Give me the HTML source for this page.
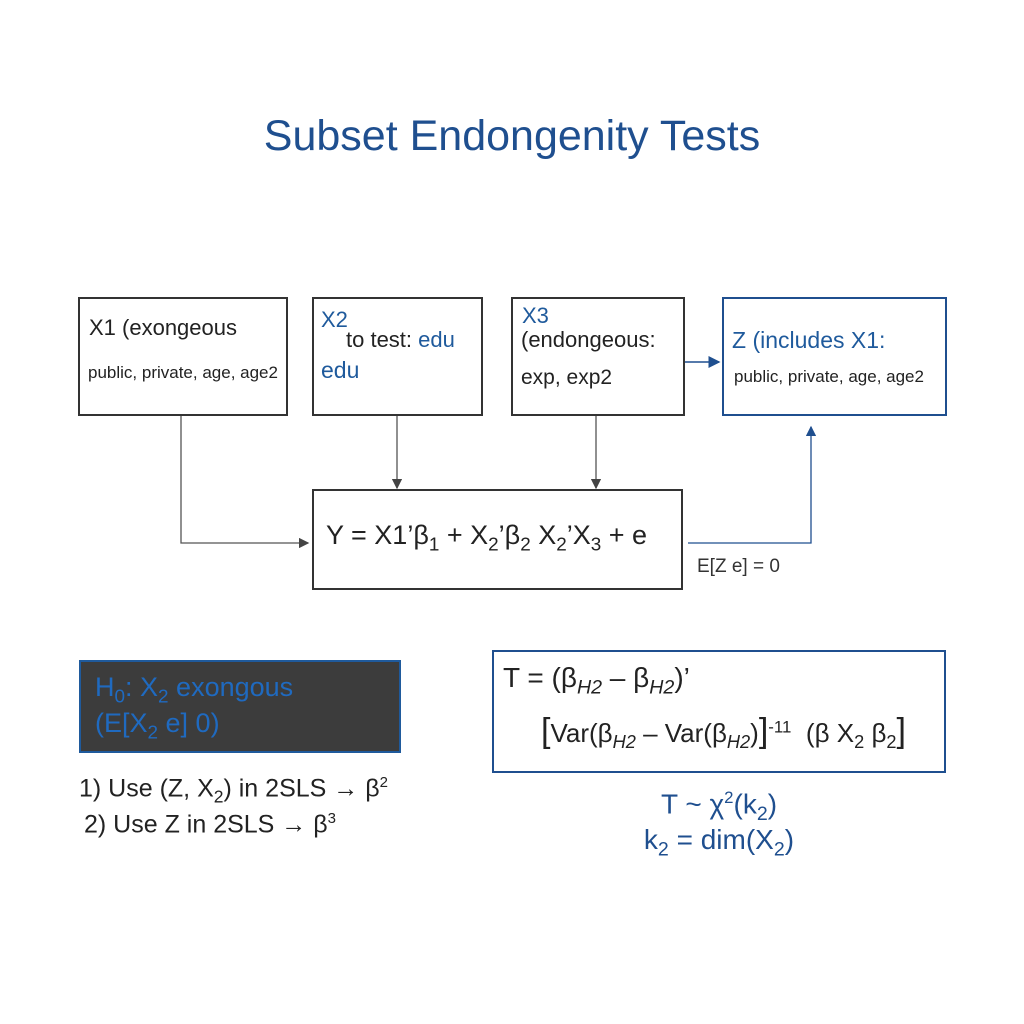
<!DOCTYPE html>
<html><head><meta charset="utf-8"><style>
body{margin:0;width:1024px;height:1024px;background:#fff;position:relative;font-family:"Liberation Sans",sans-serif;overflow:hidden}
.a{position:absolute;white-space:nowrap}
.b{position:absolute;box-sizing:border-box;border:2px solid #333;background:#fff}
.bl{color:#1f5a9c}
sub{font-size:0.7em}
</style></head><body>
<div class="a" style="left:0;width:1024px;text-align:center;top:112px;font-size:43px;color:#1f4f8f">Subset Endongenity Tests</div>

<div class="b" style="left:78px;top:297px;width:210px;height:119px"></div>
<div class="a" style="left:89px;top:315px;font-size:22px;color:#222">X1 (exongeous</div>
<div class="a" style="left:88px;top:363px;font-size:17px;color:#222">public, private, age, age2</div>

<div class="b" style="left:312px;top:297px;width:171px;height:119px"></div>
<div class="a bl" style="left:321px;top:307px;font-size:22px">X2</div>
<div class="a" style="left:346px;top:327px;font-size:22px;color:#222">to test: <span class="bl">edu</span></div>
<div class="a bl" style="left:321px;top:357px;font-size:23px">edu</div>

<div class="b" style="left:511px;top:297px;width:174px;height:119px"></div>
<div class="a bl" style="left:522px;top:303px;font-size:22px">X3</div>
<div class="a" style="left:521px;top:327px;font-size:22px;color:#222">(endongeous:</div>
<div class="a" style="left:521px;top:366px;font-size:21px;color:#222">exp, exp2</div>

<div class="b" style="left:722px;top:297px;width:225px;height:119px;border-color:#1f4f8f"></div>
<div class="a bl" style="left:732px;top:327px;font-size:23px">Z (includes X1:</div>
<div class="a" style="left:734px;top:367px;font-size:17px;color:#222">public, private, age, age2</div>

<div class="b" style="left:312px;top:489px;width:371px;height:101px"></div>
<div class="a" style="left:326px;top:520px;font-size:27px;color:#222">Y = X1’β<sub>1</sub> + X<sub>2</sub>’β<sub>2</sub> X<sub>2</sub>’X<sub>3</sub> + e</div>
<div class="a" style="left:697px;top:556px;font-size:19px;color:#333">E[Z e] = 0</div>

<svg class="a" style="left:0;top:0" width="1024" height="1024">
<defs><marker id="m" markerWidth="8" markerHeight="8" refX="7" refY="4" orient="auto"><path d="M0,0 L8,4 L0,8z" fill="#444"/></marker>
<marker id="mb" markerWidth="8" markerHeight="8" refX="7" refY="4" orient="auto"><path d="M0,0 L8,4 L0,8z" fill="#1f4f8f"/></marker></defs>
<path d="M181,416 V543 H308" stroke="#555" fill="none" stroke-width="1.3" marker-end="url(#m)"/>
<path d="M397,416 V488" stroke="#555" fill="none" stroke-width="1.3" marker-end="url(#m)"/>
<path d="M596,416 V488" stroke="#555" fill="none" stroke-width="1.3" marker-end="url(#m)"/>
<path d="M685,362 H719" stroke="#1f4f8f" fill="none" stroke-width="1.5" marker-end="url(#mb)"/>
<path d="M688,543 H811 V427" stroke="#1f4f8f" fill="none" stroke-width="1.3" marker-end="url(#mb)"/>
</svg>

<div class="b" style="left:79px;top:660px;width:322px;height:93px;background:#3c3c3c;border-color:#1f5a9c"></div>
<div class="a" style="left:95px;top:672px;font-size:27px;color:#1f6ac0">H<sub>0</sub>: X<sub>2</sub> exongous</div>
<div class="a" style="left:95px;top:708px;font-size:27px;color:#1f6ac0">(E[X<sub>2</sub> e] 0)</div>
<div class="a" style="left:79px;top:774px;font-size:25px;color:#222">1) Use (Z, X<sub>2</sub>) in 2SLS → β<sup style="font-size:0.6em">2</sup></div>
<div class="a" style="left:84px;top:810px;font-size:25px;color:#222">2) Use Z in 2SLS → β<sup style="font-size:0.6em">3</sup></div>

<div class="b" style="left:492px;top:650px;width:454px;height:123px;border-color:#1f4f8f"></div>
<div class="a" style="left:503px;top:662px;font-size:28px;color:#222">T = (β<sub><i>H2</i></sub> – β<sub><i>H2</i></sub>)’</div>
<div class="a" style="left:541px;top:712px;font-size:26px;color:#222"><span style="font-size:34px">[</span>Var(β<sub><i>H2</i></sub> – Var(β<sub><i>H2</i></sub>)<span style="font-size:34px">]</span><sup style="font-size:0.65em">-11</sup>&nbsp; (β X<sub>2</sub> β<sub>2</sub><span style="font-size:34px">]</span></div>
<div class="a bl" style="left:492px;width:454px;text-align:center;top:788px;font-size:28px;color:#1f4f8f">T ~ χ<sup style="font-size:0.6em">2</sup>(k<sub>2</sub>)</div>
<div class="a bl" style="left:492px;width:454px;text-align:center;top:824px;font-size:28px;color:#1f4f8f">k<sub>2</sub> = dim(X<sub>2</sub>)</div>
</body></html>
